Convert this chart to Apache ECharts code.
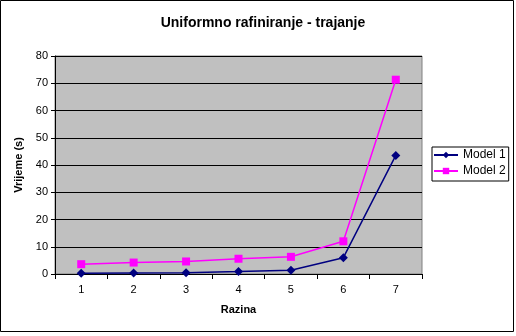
<!DOCTYPE html>
<html><head><meta charset="utf-8">
<script src="https://cdn.jsdelivr.net/npm/echarts@6/dist/echarts.min.js"></script>
<style>html,body{margin:0;padding:0;background:#fff}#c{width:516px;height:336px}</style>
</head><body><div id="c"></div>
<script>
const categories = ['1','2','3','4','5','6','7'];
const model1 = [0.25, 0.4, 0.5, 0.9, 1.4, 6.0, 43.5];
const model2 = [3.6, 4.2, 4.6, 5.6, 6.3, 12.0, 71.3];
const seriesNames = ['Model 1', 'Model 2'];
const chart = echarts.init(document.getElementById('c'), null, {renderer:'canvas'});
const font = 'Liberation Sans, Arial, sans-serif';
chart.setOption({
  animation:false,
  textStyle:{fontFamily:font},
  graphic:[{type:'rect', shape:{x:0.5,y:0.5,width:513,height:331}, style:{fill:'none',stroke:'#000',lineWidth:1}, silent:true}],
  title:{text:'Uniformno rafiniranje - trajanje', left:258, textAlign:'center', top:11,
    textStyle:{fontSize:14, fontWeight:'bold', color:'#000', fontFamily:font}},
  legend:{orient:'vertical', left:432, top:147, data:seriesNames,
    borderColor:'#000', borderWidth:1, padding:[2,3,4,1], itemGap:4,
    itemWidth:24, itemHeight:8, textStyle:{fontSize:12, color:'#000', fontFamily:font}},
  grid:{left:55, right:94, top:56, bottom:62, show:true, backgroundColor:'#c0c0c0', borderColor:'#808080', borderWidth:1},
  xAxis:{type:'category', data:categories, boundaryGap:true, name:'Razina', nameLocation:'middle', nameGap:30,
    nameTextStyle:{fontSize:11, fontWeight:'bold', color:'#000'},
    axisLine:{lineStyle:{color:'#000'}}, axisTick:{show:true, length:5, lineStyle:{color:'#000'}},
    axisLabel:{fontSize:11, color:'#000', margin:10}},
  yAxis:{type:'value', min:0, max:80, interval:10, name:'Vrijeme (s)', nameLocation:'middle', nameGap:26,
    nameTextStyle:{fontSize:11, fontWeight:'bold', color:'#000'},
    axisLine:{show:true, lineStyle:{color:'#000'}}, axisTick:{show:true, length:4, lineStyle:{color:'#000'}},
    axisLabel:{fontSize:11, color:'#000', margin:7},
    splitLine:{lineStyle:{color:'#000', width:1}}},
  series:[
    {name:seriesNames[0], type:'line', data:model1, symbol:'diamond', symbolSize:9, showAllSymbol:true,
     itemStyle:{color:'#000080'}, lineStyle:{color:'#000080', width:1.5}},
    {name:seriesNames[1], type:'line', data:model2, symbol:'rect', symbolSize:8, showAllSymbol:true,
     itemStyle:{color:'#ff00ff'}, lineStyle:{color:'#ff00ff', width:1.5}}
  ]
});
</script></body></html>
